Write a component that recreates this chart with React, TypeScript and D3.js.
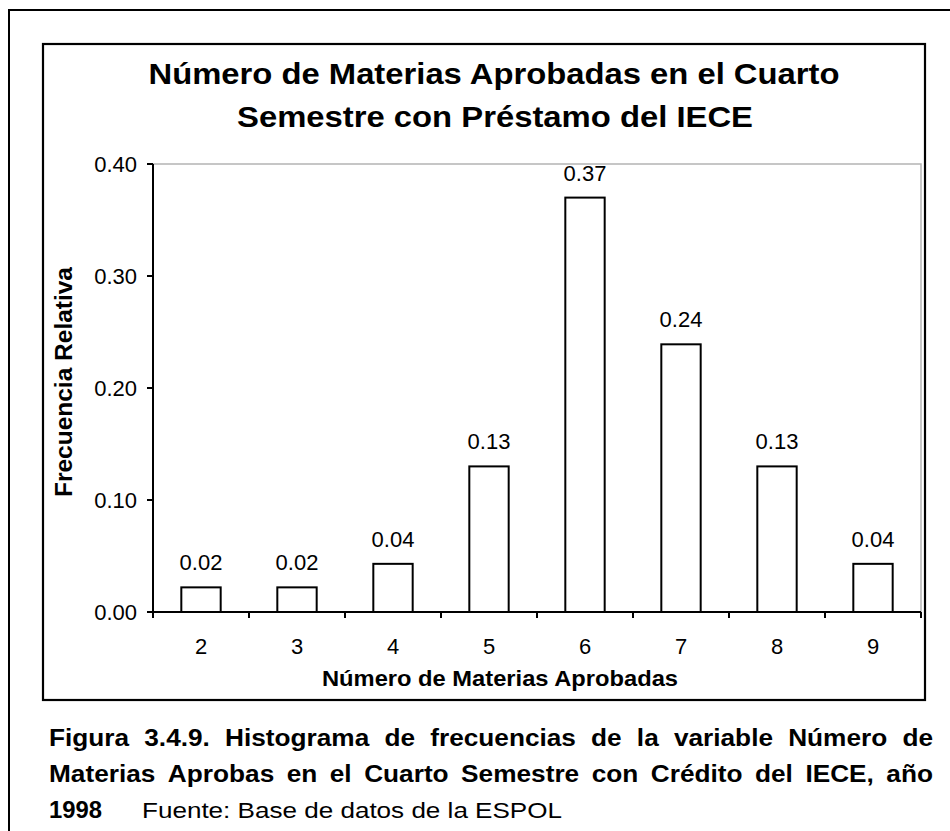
import React, { useMemo } from "react";
import * as d3 from "d3";

// datos
const categories = ["2", "3", "4", "5", "6", "7", "8", "9"];
const frequencies = [0.022, 0.022, 0.043, 0.13, 0.37, 0.239, 0.13, 0.043];
const yTicks = [0, 0.1, 0.2, 0.3, 0.4];

const titleLines = [
  "Número de Materias Aprobadas en el Cuarto",
  "Semestre con Préstamo del IECE",
];
const xTitle = "Número de Materias Aprobadas";
const yTitle = "Frecuencia Relativa";
const captionLines = [
  "Figura 3.4.9. Histograma de frecuencias de la variable Número de",
  "Materias Aprobas en el Cuarto Semestre con Crédito del IECE, año",
];
const captionYear = "1998";
const captionSource = "Fuente: Base de datos de la ESPOL";

const FONT = "'Liberation Sans', Arial, sans-serif";

const width = 950;
const height = 831;
const plot = { left: 153, right: 921, top: 164, bottom: 612 };

let ctx: CanvasRenderingContext2D | null = null;
const measure = (txt: string, font: string) => {
  if (!ctx) ctx = document.createElement("canvas").getContext("2d");
  ctx!.font = font;
  return ctx!.measureText(txt).width;
};

// reparte las palabras de una linea justificada
const justify = (line: string, font: string, left: number, right: number, stretch: number) => {
  const words = line.split(" ");
  const ws = words.map((w) => measure(w, font) * stretch);
  const gap = (right - left - d3.sum(ws)) / (words.length - 1);
  let cx = left;
  return words.map((w, i) => {
    const item = { word: w, x: cx, w: ws[i] };
    cx += ws[i] + gap;
    return item;
  });
};

const App = () => {
  const x = d3
    .scaleBand()
    .domain(categories)
    .range([plot.left, plot.right])
    .paddingInner(0.59)
    .paddingOuter(0.295);
  const y = d3.scaleLinear().domain([0, 0.4]).range([plot.bottom, plot.top]);
  const bw = x.bandwidth();
  const step = x.step();

  const boundaries = categories
    .map((c) => (x(c) as number) + bw / 2 - step / 2)
    .concat([plot.right]);

  const caption = useMemo(
    () =>
      captionLines.map((l) =>
        justify(l, `bold 23px 'Liberation Sans'`, 49, 933, 1.14)
      ),
    []
  );

  return (
    <svg
      width={width}
      height={height}
      style={{ position: "absolute", left: 0, top: 0, background: "#fff" }}
      fontFamily={FONT}
    >
      {/* marco exterior */}
      <path d={`M9,${height} V10 H${width}`} fill="none" stroke="#000" strokeWidth={2} />
      {/* marco del grafico */}
      <rect x={43} y={44} width={882} height={656} fill="#fff" stroke="#000" strokeWidth={2.2} />

      {/* titulo */}
      <text x={494} y={84} textAnchor="middle" fontSize={30} fontWeight="bold"
        textLength={691} lengthAdjust="spacingAndGlyphs">
        {titleLines[0]}
      </text>
      <text x={495} y={127} textAnchor="middle" fontSize={30} fontWeight="bold"
        textLength={516} lengthAdjust="spacingAndGlyphs">
        {titleLines[1]}
      </text>

      {/* borde gris del area de trazado */}
      <path
        d={`M${plot.left},${plot.top} H${plot.right} V${plot.bottom}`}
        fill="none"
        stroke="#b4b4b4"
        strokeWidth={1.5}
      />

      {/* barras */}
      {categories.map((c, i) => (
        <rect
          key={c}
          x={x(c)}
          y={y(frequencies[i])}
          width={bw}
          height={plot.bottom - y(frequencies[i])}
          fill="#fff"
          stroke="#000"
          strokeWidth={2}
        />
      ))}
      {categories.map((c, i) => (
        <text
          key={"v" + c}
          x={(x(c) as number) + bw / 2}
          y={y(frequencies[i]) - 17}
          textAnchor="middle"
          fontSize={22}
        >
          {frequencies[i].toFixed(2)}
        </text>
      ))}

      {/* eje y */}
      <line x1={plot.left} x2={plot.left} y1={plot.top} y2={plot.bottom + 6} stroke="#000" strokeWidth={2} />
      {yTicks.map((t) => (
        <g key={t}>
          <line x1={plot.left - 6} x2={plot.left} y1={y(t)} y2={y(t)} stroke="#000" strokeWidth={2} />
          <text x={plot.left - 16} y={y(t) + 8} textAnchor="end" fontSize={22}>
            {t.toFixed(2)}
          </text>
        </g>
      ))}

      {/* eje x */}
      <line x1={plot.left} x2={plot.right} y1={plot.bottom} y2={plot.bottom} stroke="#000" strokeWidth={2} />
      {boundaries.map((b, i) => (
        <line key={i} x1={b} x2={b} y1={plot.bottom} y2={plot.bottom + 6} stroke="#000" strokeWidth={2} />
      ))}
      {categories.map((c) => (
        <text key={"x" + c} x={(x(c) as number) + bw / 2} y={654} textAnchor="middle" fontSize={22}>
          {c}
        </text>
      ))}

      {/* titulos de ejes */}
      <text x={500} y={686} textAnchor="middle" fontSize={22} fontWeight="bold"
        textLength={356} lengthAdjust="spacingAndGlyphs">
        {xTitle}
      </text>
      <text
        transform="translate(72,382) rotate(-90)"
        textAnchor="middle"
        fontSize={23}
        fontWeight="bold"
        textLength={230}
        lengthAdjust="spacingAndGlyphs"
      >
        {yTitle}
      </text>

      {/* leyenda de la figura */}
      {caption.map((line, li) =>
        line.map((w, wi) => (
          <text key={li + "-" + wi} x={w.x} y={746 + li * 36} fontSize={23} fontWeight="bold"
            textLength={w.w} lengthAdjust="spacingAndGlyphs">
            {w.word}
          </text>
        ))
      )}
      <text x={49} y={818} fontSize={23} fontWeight="bold" textLength={53} lengthAdjust="spacingAndGlyphs">
        {captionYear}
      </text>
      <text x={142} y={818} fontSize={22.5} textLength={420} lengthAdjust="spacingAndGlyphs">
        {captionSource}
      </text>
    </svg>
  );
};

export default App;
